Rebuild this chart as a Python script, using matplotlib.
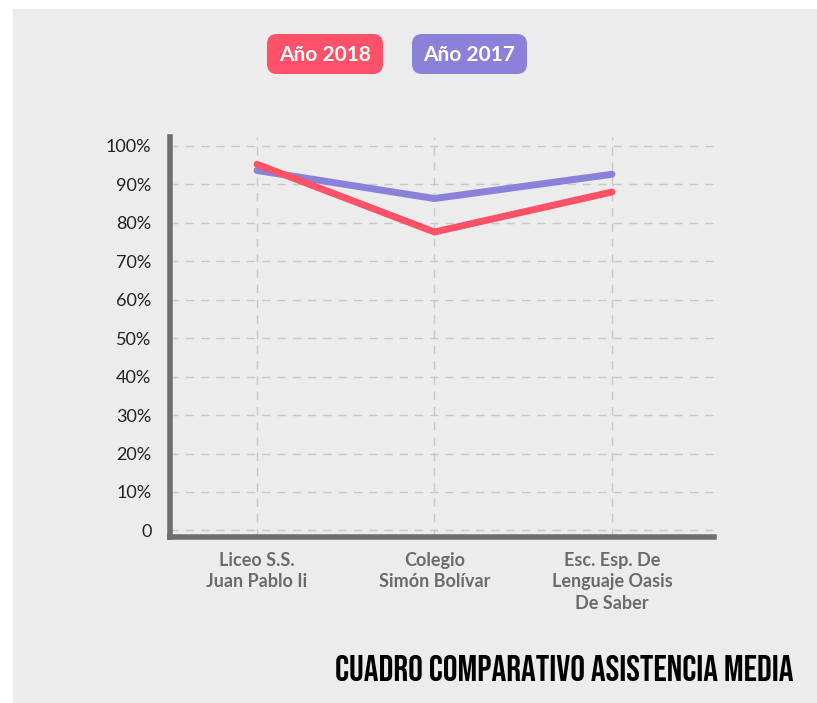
import matplotlib.pyplot as plt
from matplotlib import font_manager
from matplotlib.patches import FancyBboxPatch, Rectangle
from matplotlib.transforms import Affine2D

# data
schools = ["Liceo S.S.\nJuan Pablo Ii", "Colegio\nSimón Bolívar", "Esc. Esp. De\nLenguaje Oasis\nDe Saber"]
asist_2018 = [95.2, 77.6, 88.0]
asist_2017 = [93.6, 86.3, 92.6]
y_ticks = [0, 10, 20, 30, 40, 50, 60, 70, 80, 90, 100]
y_labels = ["0", "10%", "20%", "30%", "40%", "50%", "60%", "70%", "80%", "90%", "100%"]

RED = "#ff5168"
PURPLE = "#8a81d8"
BG = "#ececec"
AXIS = "#6f6f6f"

installed = {f.name for f in font_manager.fontManager.ttflist}


def pick(*cands):
    for c in cands:
        if c in installed:
            return c
    return "DejaVu Sans"


title_font = pick("Bebas Neue", "Oswald", "Anton", "Liberation Sans Narrow")

W, H = 817, 703
fig = plt.figure(figsize=(W / 100, H / 100), dpi=100, facecolor="white")
# pixel coords, origin top-left
px = Affine2D().scale(1 / W, -1 / H).translate(0, 1) + fig.transFigure

# gray panel
fig.patches.append(Rectangle((13, 9), W - 13, H - 9, transform=px,
                             facecolor=BG, edgecolor="none", zorder=-5))

ax = fig.add_axes([169.5 / W, (H - 537) / H, (714 - 169.5) / W, (537 - 137) / H])
ax.set_facecolor("none")

x = range(len(schools))
ax.plot(x, asist_2017, color=PURPLE, lw=5, solid_capstyle="round", zorder=3)
ax.plot(x, asist_2018, color=RED, lw=5, solid_capstyle="round", zorder=4)

ax.set_xlim(-0.493, 2.575)
ax.set_ylim(-1.7, 102.3)
ax.set_yticks(y_ticks)
ax.set_yticklabels(y_labels, fontfamily="Lato", fontsize=13, color="#222222")
ax.set_xticks(list(x))
ax.set_xticklabels(schools, fontfamily="Lato", fontweight="bold", fontsize=13,
                   color="#6b6b6b", linespacing=1.3)
ax.tick_params(length=0)
ax.tick_params(axis="y", pad=13)
ax.tick_params(axis="x", pad=11)

ax.grid(True, color="#c8c8c8", linestyle=(0, (6, 5)), linewidth=1)
ax.set_axisbelow(True)

for s in ["top", "right"]:
    ax.spines[s].set_visible(False)
for s in ["left", "bottom"]:
    ax.spines[s].set_color(AXIS)
    ax.spines[s].set_linewidth(4)
    ax.spines[s].set_capstyle("projecting")

# legend boxes
for (x0, x1), label, col in [((267, 383), "Año 2018", RED), ((412, 527), "Año 2017", PURPLE)]:
    box = FancyBboxPatch((x0, 34), x1 - x0, 40,
                         boxstyle="round,pad=0,rounding_size=10",
                         transform=px, facecolor=col, edgecolor="none")
    fig.patches.append(box)
    fig.text((x0 + x1) / 2, 55, label, transform=px, color="white", fontsize=15,
             fontweight="bold", family=["Lato", "DejaVu Sans"], ha="center", va="center")

fig.text(794, 668, "CUADRO COMPARATIVO ASISTENCIA MEDIA", transform=px,
         family=[title_font, "DejaVu Sans"], fontweight="bold",
         fontsize=26.5, color="black", ha="right", va="center")

fig.savefig("out.png", dpi=100, facecolor="white")
